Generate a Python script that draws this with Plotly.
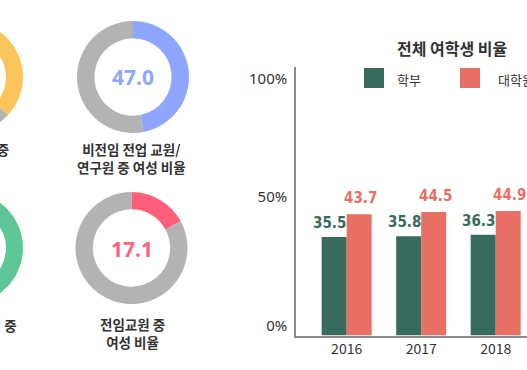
import numpy as np
import plotly.graph_objects as go

# ---------------- data ----------------
years = ["2016", "2017", "2018"]
undergrad = [35.5, 35.8, 36.3]
graduate = [43.7, 44.5, 44.9]
series_names = ["학부", "대학원"]
chart_title = "전체 여학생 비율"
y_tick_labels = ["0%", "50%", "100%"]

# donuts: partially visible ones on the left edge, and two full ones
left_donut_values = [37.0, 60.0]          # yellow (top), green (bottom) - estimated
left_donut_labels = ["전체 교원 중", "위원회 구성 중"]
mid_donut_values = [47.0, 17.1]
mid_donut_labels = ["비전임 전업 교원/<br>연구원 중 여성 비율", "전임교원 중<br>여성 비율"]

# ---------------- styling ----------------
W, H = 527, 370
GREEN = "#376b5d"
RED = "#e76f64"
GRAY = "#b3b3b3"
YELLOW = "#fcc55b"
LGREEN = "#5cc794"
BLUE = "#8fa6ff"
PINK = "#ff5f7d"
TXT = "#333333"
KR = "Noto Sans CJK KR, Noto Sans, sans-serif"
COND = "Liberation Sans Narrow, DejaVu Sans Condensed, Liberation Sans, Arial, sans-serif"


def px_x(x):
    return x / W


def px_y(y):
    return 1 - y / H


fig = go.Figure()

# ---- full donuts (pie traces) ----
R = 56
mid_centers = [(133, 77), (131.5, 248)]
mid_colors = [BLUE, PINK]
for val, col, (cx, cy) in zip(mid_donut_values, mid_colors, mid_centers):
    fig.add_trace(go.Pie(
        values=[val, 100 - val],
        marker=dict(colors=[col, GRAY], line=dict(width=0)),
        hole=0.69, sort=False, direction="clockwise", rotation=0,
        textinfo="none", hoverinfo="skip", showlegend=False,
        domain=dict(x=[px_x(cx - R), px_x(cx + R)], y=[px_y(cy + R), px_y(cy - R)]),
    ))


# ---- partially visible donuts on the left (clipped ring slices) ----
def ring_slice(cx, cy, r_out, r_in, a0, a1, n=80):
    t = np.deg2rad(np.linspace(a0, a1, n))
    xo = cx + r_out * np.sin(t)
    yo = cy - r_out * np.cos(t)
    xi = cx + r_in * np.sin(t[::-1])
    yi = cy - r_in * np.cos(t[::-1])
    return np.r_[xo, xi, xo[:1]], np.r_[yo, yi, yo[:1]]


left_centers = [(-33, 77), (-33, 248)]
left_colors = [YELLOW, LGREEN]
for val, col, (cx, cy) in zip(left_donut_values, left_colors, left_centers):
    split = val * 3.6
    for a0, a1, c in [(0, split, col), (split, 360, GRAY)]:
        xs, ys = ring_slice(cx, cy, R, 39, a0, a1)
        fig.add_trace(go.Scatter(
            x=xs, y=ys, mode="lines", fill="toself", fillcolor=c,
            line=dict(width=0, color=c), hoverinfo="skip", showlegend=False,
            xaxis="x2", yaxis="y2",
        ))

# ---- bar chart ----
for name, vals, col in [(series_names[0], undergrad, GREEN), (series_names[1], graduate, RED)]:
    fig.add_trace(go.Bar(
        x=years, y=vals, name=name, marker=dict(color=col, line=dict(width=0)),
        hoverinfo="skip", showlegend=False,
    ))

annotations = []
# bar value labels (anchored to the data through the bar axes; category index on x)
for vals, col, dx, dy in [(undergrad, GREEN, -17, 3), (graduate, RED, 14, 5)]:
    for i, v in enumerate(vals):
        annotations.append(dict(
            x=i, y=v, xref="x", yref="y", showarrow=False,
            text=f"{v:.1f}", xshift=dx, yshift=dy, yanchor="bottom", xanchor="center",
            font=dict(family=COND, size=15, color=col, weight="bold"),
        ))
# donut centre values
for val, col, (cx, cy) in zip(mid_donut_values, mid_colors, mid_centers):
    annotations.append(dict(
        x=px_x(cx), y=px_y(cy + 0.5), xref="paper", yref="paper", showarrow=False,
        text=f"{val:.1f}", font=dict(family="Noto Sans, " + KR, size=21, color=col, weight="bold"),
        xanchor="center", yanchor="middle",
    ))
# donut captions
for lab, (x, y) in zip(mid_donut_labels, [(131.5, 157.6), (132.5, 333)]):
    annotations.append(dict(
        x=px_x(x), y=px_y(y), xref="paper", yref="paper", showarrow=False,
        text=lab, font=dict(family=KR, size=13.5, color=TXT, weight="bold"),
        xanchor="center", yanchor="middle", align="center",
    ))
for lab, (x, y) in zip(left_donut_labels, [(11, 149), (19, 325)]):
    annotations.append(dict(
        x=px_x(x), y=px_y(y), xref="paper", yref="paper", showarrow=False,
        text=lab, font=dict(family=KR, size=13.5, color=TXT, weight="bold"),
        xanchor="right", yanchor="middle",
    ))
# chart title
annotations.append(dict(
    x=px_x(452), y=px_y(47.5), xref="paper", yref="paper", showarrow=False,
    text=f"<b>{chart_title}</b>", font=dict(family=KR, size=16, color=TXT),
    xanchor="center", yanchor="middle",
))
# legend texts
for lab, x in zip(series_names, [395, 496]):
    annotations.append(dict(
        x=px_x(x), y=px_y(79), xref="paper", yref="paper", showarrow=False,
        text=lab, font=dict(family=KR, size=13, color=TXT),
        xanchor="left", yanchor="middle",
    ))

shapes = []
for col, x in zip([GREEN, RED], [364, 460]):
    shapes.append(dict(
        type="rect", xref="paper", yref="paper",
        x0=px_x(x), x1=px_x(x + 20), y0=px_y(88), y1=px_y(68),
        fillcolor=col, line=dict(width=0),
    ))

PX_PER_PCT = 2.774
plot_top, plot_bottom = 67, 335.5
fig.update_layout(
    width=W, height=H,
    margin=dict(l=0, r=0, t=0, b=0),
    paper_bgcolor="white", plot_bgcolor="white",
    font=dict(family=KR, color=TXT),
    barmode="group", bargap=0.329, bargroupgap=0,
    showlegend=False,
    xaxis=dict(
        domain=[px_x(296), 1], type="category",
        range=[-0.68, 2.42], showline=True, linecolor="#8a8a8a", linewidth=1.5,
        ticks="", showgrid=False, zeroline=False,
        tickfont=dict(family=KR, size=14, color=TXT), anchor="y", fixedrange=True,
    ),
    yaxis=dict(
        domain=[px_y(plot_bottom), px_y(plot_top)],
        range=[0, (plot_bottom - plot_top) / PX_PER_PCT],
        tickvals=[(plot_bottom - 326) / PX_PER_PCT, (plot_bottom - 196.7) / PX_PER_PCT,
                  (plot_bottom - 78.3) / PX_PER_PCT],
        ticktext=y_tick_labels,
        showline=True, linecolor="#8a8a8a", linewidth=1.5, ticks="",
        showgrid=False, zeroline=False, ticklabelstandoff=4,
        tickfont=dict(family="Noto Sans, " + KR, size=15, color=TXT), anchor="x", fixedrange=True,
    ),
    xaxis2=dict(domain=[0, 0.1], range=[0, 0.1 * W], visible=False, anchor="y2", fixedrange=True),
    yaxis2=dict(domain=[0, 1], range=[H, 0], visible=False, anchor="x2", fixedrange=True),
    annotations=annotations,
    shapes=shapes,
)

fig.write_html(
    "out.html",
    config={"displayModeBar": False},
    post_script="document.body.style.margin='0';document.body.style.overflow='hidden';",
)
